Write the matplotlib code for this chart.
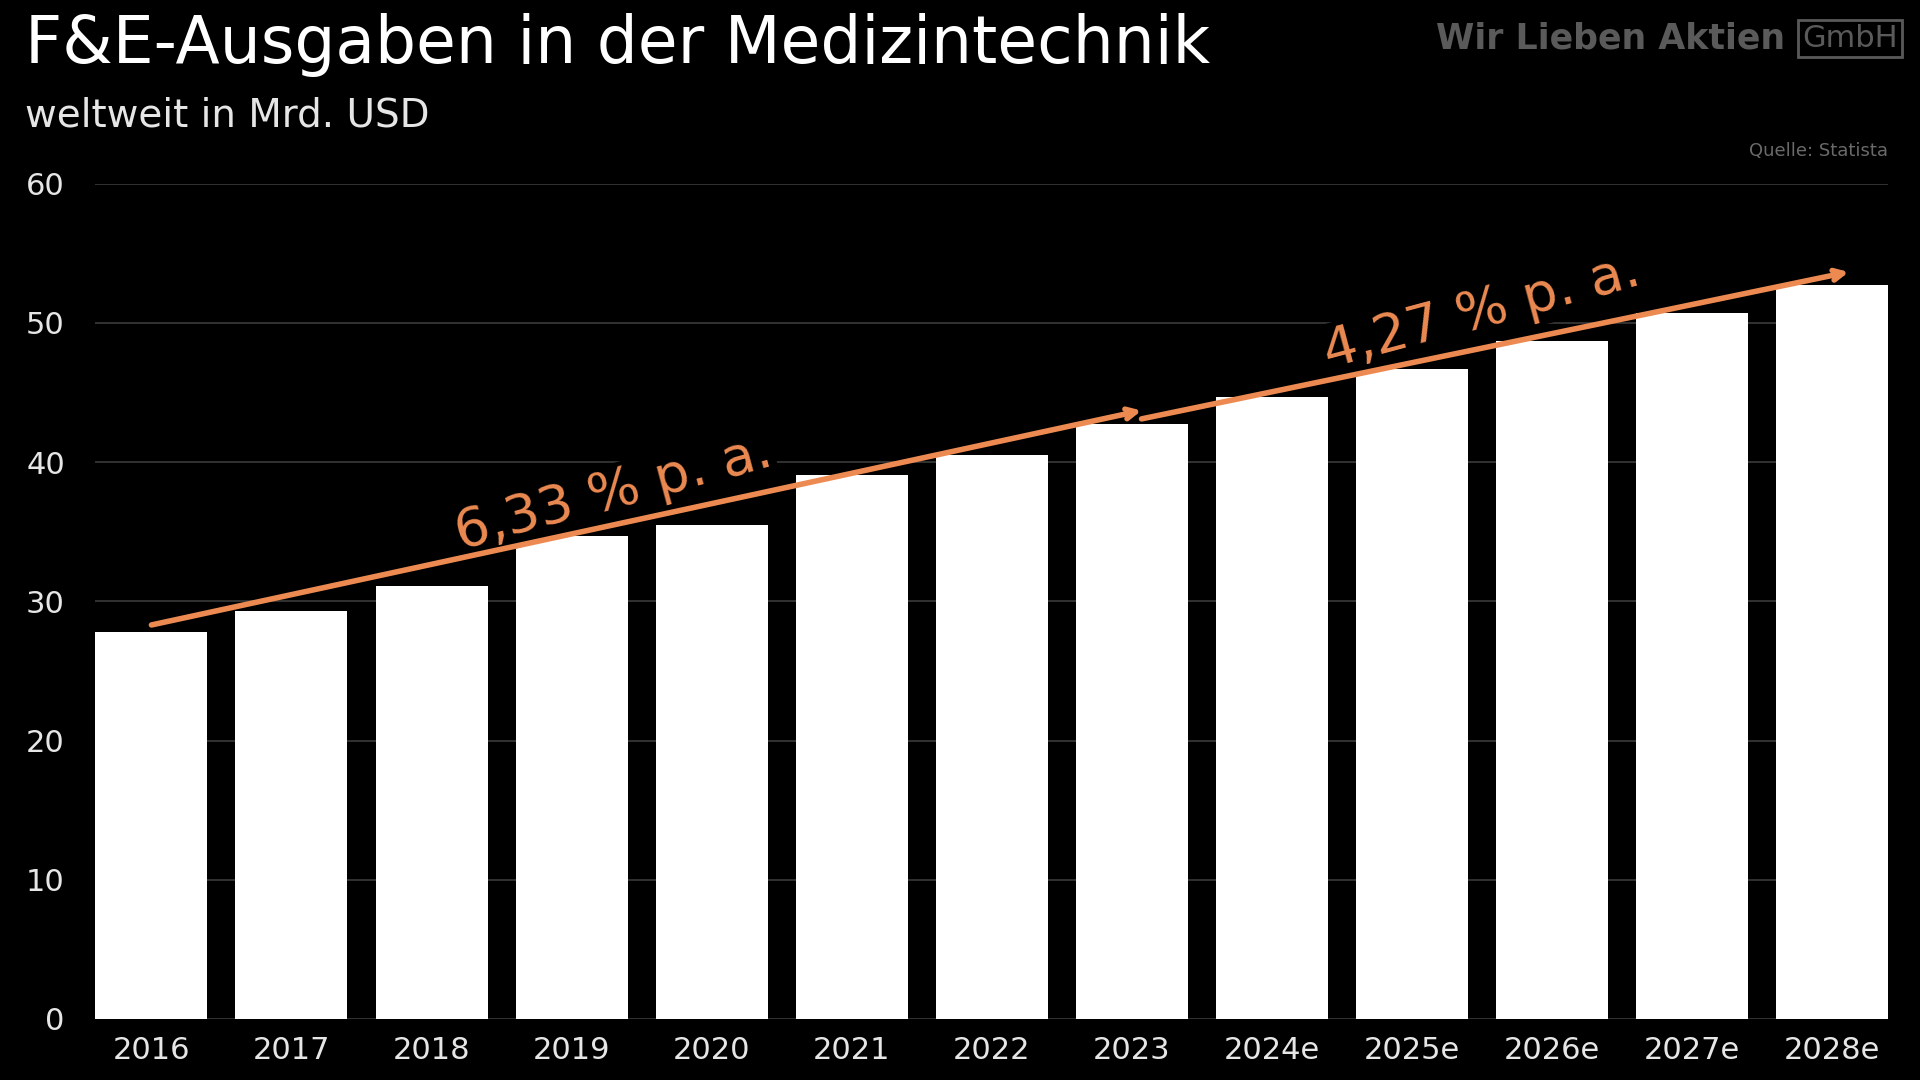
import numpy as np
import matplotlib.pyplot as plt

# data
jahre = ['2016', '2017', '2018', '2019', '2020', '2021', '2022', '2023',
         '2024e', '2025e', '2026e', '2027e', '2028e']
ausgaben = [27.8, 29.3, 31.1, 34.7, 35.5, 39.1, 40.5, 42.7,
            44.7, 46.7, 48.7, 50.7, 52.7]
cagr_labels = ['6,33 % p. a.', '4,27 % p. a.']
yticks = [0, 10, 20, 30, 40, 50, 60]

orange = '#EC8A52'
plt.rcParams['font.family'] = ['DejaVu Sans']

fig = plt.figure(figsize=(19.2, 10.8), dpi=100, facecolor='black')
ax = fig.add_axes([0.0497, 0.0565, 0.9336, 0.7735], facecolor='black')

x = np.arange(len(jahre))
ax.bar(x, ausgaben, width=0.8, color='white', zorder=2)

ax.set_xlim(-0.4, len(jahre) - 0.6)
ax.set_ylim(0, 60)
ax.set_yticks(yticks)
ax.set_xticks(x)
ax.set_xticklabels(jahre)
ax.tick_params(axis='both', length=0, colors='#e6e6e6', labelsize=22)
ax.tick_params(axis='x', pad=12)
ax.tick_params(axis='y', pad=22)
ax.grid(axis='y', color='#3a3a3a', linewidth=1.2, zorder=0)
for s in ax.spines.values():
    s.set_visible(False)

# Wachstumspfeile
a1_start = (0.0, ausgaben[0] + 0.5)
a1_end = (7.07, ausgaben[7] + 1.0)
a2_start = (7.07, ausgaben[7] + 0.4)
a2_end = (12.12, ausgaben[12] + 0.95)
for s, e in [(a1_start, a1_end), (a2_start, a2_end)]:
    ax.annotate('', xy=e, xytext=s,
                arrowprops=dict(arrowstyle='->,head_length=0.7,head_width=0.35',
                                color=orange, lw=4, shrinkA=0, shrinkB=0),
                zorder=4)

bbox = dict(facecolor='black', edgecolor='none', pad=2)
ax.text(3.3, 37.8, cagr_labels[0], color=orange, fontsize=39, rotation=15,
        ha='center', va='center', bbox=bbox, zorder=3)
ax.text(9.5, 50.8, cagr_labels[1], color=orange, fontsize=39, rotation=15,
        ha='center', va='center', bbox=bbox, zorder=3)

# Titel
fig.text(0.013, 0.958, 'F&E-Ausgaben in der Medizintechnik', color='white',
         fontsize=46.5, ha='left', va='center')
fig.text(0.013, 0.893, 'weltweit in Mrd. USD', color='#e6e6e6',
         fontsize=28, ha='left', va='center')

# Logo und Quelle
fig.text(0.93, 0.964, 'Wir Lieben Aktien', color='#5a5a5a', fontsize=25,
         fontweight='bold', ha='right', va='center')
fig.text(0.9635, 0.9645, 'GmbH', color='#5a5a5a', fontsize=22,
         ha='center', va='center',
         bbox=dict(facecolor='none', edgecolor='#5a5a5a', linewidth=2, pad=3))
fig.text(0.9833, 0.86, 'Quelle: Statista', color='#6a6a6a', fontsize=13,
         ha='right', va='center')

fig.savefig('out.png', dpi=100, facecolor='black')
